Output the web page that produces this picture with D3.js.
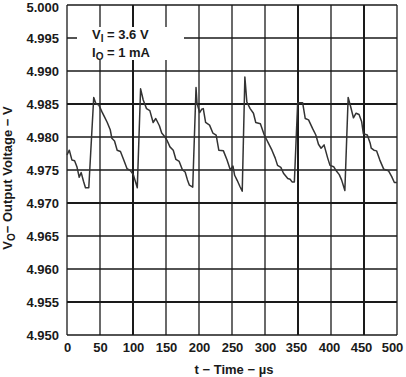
<!DOCTYPE html>
<html>
<head>
<meta charset="utf-8">
<script src="https://cdn.jsdelivr.net/npm/d3@7"></script>
<style>
body{margin:0;background:#fff;}
svg{display:block;font-family:"Liberation Sans",Arial,Helvetica,sans-serif;font-weight:bold;}
</style>
</head>
<body>
<svg id="chart" width="406" height="377"></svg>
<script>
const timeUs = [0,3.5,7.5,11.5,15,18.5,21.5,25,28,33,40.5,44,48,53,57,61,65.5,68,72,76,81,86,91,96,100.5,106.5,
111.5,115.5,120.5,125.5,130.5,134.5,140,143.5,148.5,152,156,161,165,170,175,179,182.5,185.5,190.5,
195.5,197,201,204,206.5,210,216,221,226,230,237,242.5,247.5,251.5,254,258,262,265.5,
269.5,272.5,277.5,282.5,286,293,298.5,302,305.5,310.5,315.5,319,324,328,334.5,338,341,344.5,
349.5,357,361,366,372,377,381,385,389.5,395,398.5,404,408.5,412.5,416,421,
426,430,434,438,442.5,446.5,449,455,459.5,461,465,469,474,480,487,492,496,500];
const voltage = [4.9773,4.9780,4.9765,4.9764,4.9755,4.9739,4.9746,4.9733,4.9723,4.9723,4.9860,4.9850,4.9849,4.9838,4.9830,4.9822,4.9811,4.9798,4.9794,4.9780,4.9778,4.9765,4.9752,4.9749,4.9743,4.9723,
4.9873,4.9856,4.9843,4.9840,4.9822,4.9828,4.9817,4.9806,4.9800,4.9794,4.9785,4.9780,4.9766,4.9763,4.9750,4.9747,4.9735,4.9727,4.9724,
4.9875,4.9851,4.9837,4.9842,4.9843,4.9822,4.9818,4.9806,4.9803,4.9780,4.9779,4.9765,4.9750,4.9756,4.9742,4.9734,4.9725,4.9718,
4.9891,4.9853,4.9843,4.9836,4.9822,4.9820,4.9804,4.9797,4.9790,4.9780,4.9768,4.9757,4.9754,4.9745,4.9737,4.9736,4.9732,4.9732,
4.9852,4.9852,4.9828,4.9826,4.9813,4.9803,4.9789,4.9783,4.9788,4.9768,4.9757,4.9755,4.9748,4.9743,4.9735,4.9719,
4.9860,4.9845,4.9829,4.9836,4.9834,4.9823,4.9805,4.9803,4.9790,4.9783,4.9780,4.9779,4.9765,4.9751,4.9749,4.9740,4.9731,4.9731];
const xTicks = [0,50,100,150,200,250,300,350,400,450,500];
const yTicks = [4.950,4.955,4.960,4.965,4.970,4.975,4.980,4.985,4.990,4.995,5.000];
const xDomain = [0,500];
const yDomain = [4.950,5.000];

const svg = d3.select("#chart");
const L = 67, R = 397, T = 5, B = 335;
const x = d3.scaleLinear().domain(xDomain).range([L,R]);
const y = d3.scaleLinear().domain(yDomain).range([B,T]);

// gridlines
const thickX = new Set([100,350,450]);
const thickY = new Set([4.985,4.955,4.970]);
svg.append("g").selectAll("line").data(xTicks).join("line")
  .attr("x1",d=>x(d)).attr("x2",d=>x(d)).attr("y1",T).attr("y2",B)
  .attr("stroke","#1a1a1a").attr("stroke-width",d=>thickX.has(d)?2:1.3);
svg.append("g").selectAll("line").data(yTicks).join("line")
  .attr("x1",L).attr("x2",R).attr("y1",d=>y(d)).attr("y2",d=>y(d))
  .attr("stroke","#1a1a1a").attr("stroke-width",d=>thickY.has(+d.toFixed(3))?2:1.3);

// legend box (covers grid)
svg.append("rect").attr("x",77).attr("y",27).attr("width",107).attr("height",33).attr("fill","#fff");
const leg = svg.append("g").attr("font-size",13).attr("fill","#1a1a1a");
const t1 = leg.append("text").attr("x",92).attr("y",39);
t1.append("tspan").text("V");
t1.append("tspan").attr("font-size",10).attr("dy",3).text("I");
t1.append("tspan").attr("dy",-3).text(" = 3.6 V");
const t2 = leg.append("text").attr("x",92).attr("y",57);
t2.append("tspan").text("I");
t2.append("tspan").attr("font-size",10).attr("dy",3).text("O");
t2.append("tspan").attr("dy",-3).text(" = 1 mA");

// data line
const pts = timeUs.map((t,i)=>[t,voltage[i]]);
svg.append("path").datum(pts)
  .attr("d",d3.line().x(d=>x(d[0])).y(d=>y(d[1])))
  .attr("fill","none").attr("stroke","#333").attr("stroke-width",1.5).attr("stroke-linejoin","round");

// axes labels
const ax = svg.append("g").attr("transform",`translate(0,${B})`)
  .call(d3.axisBottom(x).tickValues(xTicks).tickSize(0).tickPadding(8).tickFormat(d3.format("d")));
ax.attr("font-family",null).attr("font-size",null);
ax.select(".domain").remove();
const xShift = {350:-2,400:-2,450:-3,500:-5};
ax.selectAll("text").attr("font-size",13).attr("fill","#1a1a1a").attr("font-weight","bold")
  .attr("dx",d=>xShift[d]||0);
const ay = svg.append("g").attr("transform",`translate(${L},0)`)
  .call(d3.axisLeft(y).tickValues(yTicks).tickSize(0).tickPadding(8).tickFormat(d3.format(".3f")));
ay.attr("font-family",null).attr("font-size",null);
ay.select(".domain").remove();
ay.selectAll("text").attr("font-size",13).attr("fill","#1a1a1a").attr("font-weight","bold")
  .attr("dy",d=>d>=5?"0.48em":"0.36em");

// titles
svg.append("text").attr("x",234).attr("y",374).attr("text-anchor","middle")
  .attr("font-size",13).attr("fill","#1a1a1a").text("t − Time − µs");
const yt = svg.append("text").attr("transform","translate(12,178) rotate(-90)")
  .attr("text-anchor","middle").attr("font-size",13).attr("fill","#1a1a1a");
yt.append("tspan").text("V");
yt.append("tspan").attr("font-size",10).attr("dy",3).text("O");
yt.append("tspan").attr("dy",-3).text("− Output Voltage − V");
</script>
</body>
</html>
